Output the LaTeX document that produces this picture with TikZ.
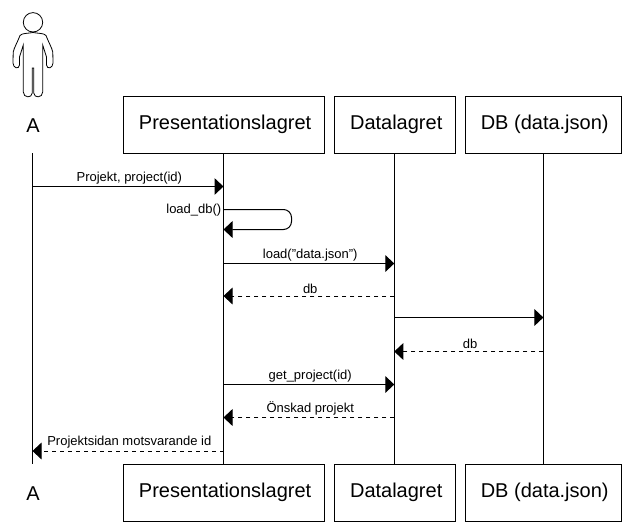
\documentclass[tikz,border=0pt]{standalone}
\usepackage{fontspec}
\setmainfont{Liberation Sans}
\usetikzlibrary{arrows.meta,positioning}
\tikzset{
    lagerbox/.style={draw, rectangle, minimum height=42.75pt, inner sep=0pt, line width=0.75pt, font=\fontsize{15}{18}\selectfont, execute at begin node=\kern1.8pt},
    actorlabel/.style={font=\fontsize{15}{18}\selectfont},
    msglabel/.style={font=\fontsize{9.75}{11}\selectfont, inner sep=1pt, above=0.5pt, xshift=1pt},
    lifeline/.style={line width=0.75pt},
    msg/.style={line width=0.75pt, -{Triangle[width=12.5pt,length=6.75pt]}},
    retmsg/.style={msg, dash pattern=on 3pt off 3pt},
}
\begin{document}
\begin{tikzpicture}[x=0.75pt, y=-0.75pt]
    \useasboundingbox (0,0) rectangle (644,526);

    % top row
    \node[actorlabel] (atop) at (33,125.5) {A};
    \node[lagerbox, minimum width=151pt] (ptop) at (223.9,124.8) {Presentationslagret};
    \node[lagerbox, minimum width=91pt] (dtop) at (395,124.8) {Datalagret};
    \node[lagerbox, minimum width=117.3pt] (jtop) at (543.5,124.8) {DB (data.json)};

    % bottom row
    \node[actorlabel] (abot) at (33,493.5) {A};
    \node[lagerbox, minimum width=151pt] (pbot) at (223.9,492.8) {Presentationslagret};
    \node[lagerbox, minimum width=91pt] (dbot) at (395,492.8) {Datalagret};
    \node[lagerbox, minimum width=117.3pt] (jbot) at (543.5,492.8) {DB (data.json)};

    % lifelines
    \coordinate (astart) at (32.5,153.3);
    \coordinate (aend) at (32.5,464.3);
    \coordinate (pstart) at (223.5,153.3);
    \coordinate (pend) at (223.5,464.3);
    \coordinate (dstart) at (394.3,153.3);
    \coordinate (dend) at (394.3,464.3);
    \coordinate (jstart) at (543.4,153.3);
    \coordinate (jend) at (543.4,464.3);
    \draw[lifeline] (astart) -- (aend);
    \draw[lifeline] (pstart) -- (pend);
    \draw[lifeline] (dstart) -- (dend);
    \draw[lifeline] (jstart) -- (jend);

    % anchor points on the lifelines
    \foreach \n/\x/\y in {m1a/32.5/186.5, m1b/223.5/186.5, m3a/223.5/263.5, m3b/394.3/263.5,
        m4a/394.3/296, m4b/223.5/296, m5a/395/317.5, m5b/543.4/317.5, m6a/543.4/351.5, m6b/394.3/351.5,
        m7a/223.5/384.5, m7b/394.3/384.5, m8a/394.3/417.5, m8b/223.5/417.5, m9a/223.5/451, m9b/32.5/451,
        selfa/223.5/209.5, selfb/291.5/209.5, selfc/291.5/229.5, selfd/223.5/229.5}
        \coordinate (\n) at (\x,\y);

    \draw[msg] (m1a) -- node[msglabel] (t1) {Projekt, project(id)} (m1b);
    \draw[msg, rounded corners=6pt] (selfa) -- (selfb) -- (selfc) -- (selfd);
    \node[msglabel, anchor=center] (t2) at (192.5,211) {load\_db()};
    \draw[msg] (m3a) -- node[msglabel] (t3) {load("data.json")} (m3b);
    \draw[retmsg] (m4a) -- node[msglabel] (t4) {db} (m4b);
    \draw[msg] (m5a) -- (m5b);
    \draw[retmsg] (m6a) -- node[msglabel] (t6) {db} (m6b);
    \draw[msg] (m7a) -- node[msglabel] (t7) {get\_project(id)} (m7b);
    \draw[retmsg] (m8a) -- node[msglabel] (t8) {Önskad projekt} (m8b);
    \draw[retmsg] (m9a) -- node[msglabel] (t9) {Projektsidan motsvarande id} (m9b);

    % person
    \draw[line width=0.6pt] (33,22.3) circle[radius=9.7];
    \draw[line width=0.6pt] (33,32.5) .. controls (28,33.5) and (22,33) .. (20,35.5)
        .. controls (18,41) and (14,48) .. (13.2,52) -- (13,63)
        .. controls (13,68) and (19,70) .. (19.5,65) -- (19.5,57)
        -- (23.3,45) -- (23.3,92)
        .. controls (23.3,98) and (32,98.5) .. (32.2,93) -- (32.2,68) -- (33.8,68) -- (33.8,93)
        .. controls (34,98.5) and (42.7,98) .. (42.7,92)
        -- (42.7,45) -- (46.5,57) -- (46.5,65)
        .. controls (47,70) and (53,68) .. (53,63) -- (52.8,52)
        .. controls (52,48) and (48,41) .. (46,35.5)
        .. controls (44,33) and (38,33.5) .. (33,32.5) -- cycle;
\end{tikzpicture}
\end{document}
